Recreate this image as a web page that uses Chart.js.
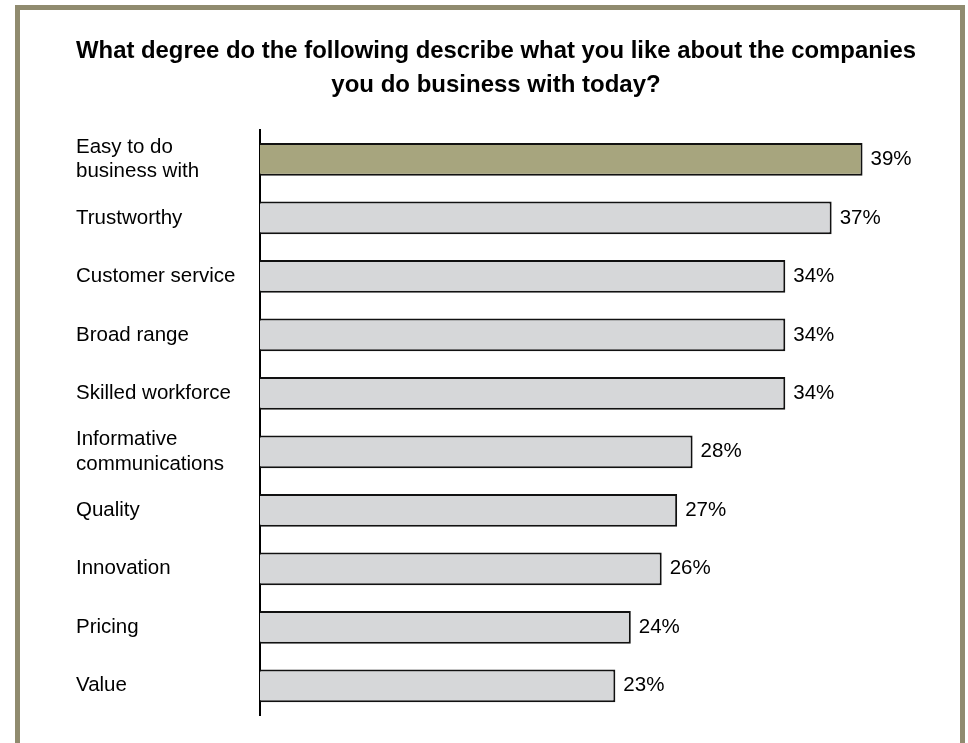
<!DOCTYPE html>
<html>
<head>
<meta charset="utf-8">
<script src="https://cdn.jsdelivr.net/npm/chart.js@4/dist/chart.umd.min.js"></script>
<style>
  html, body { margin: 0; padding: 0; background: #fff; }
  #wrap { position: relative; width: 968px; height: 743px; overflow: hidden; }
  #frame {
    position: absolute; left: 15px; top: 5px; width: 940px; height: 740px;
    border: 5px solid #908b6f; border-bottom-width: 2px; box-sizing: content-box;
  }
  #chart { position: absolute; left: 0; top: 0; }
</style>
</head>
<body>
<div id="wrap">
  <div id="frame"></div>
  <canvas id="chart" width="968" height="743"></canvas>
</div>
<script>
// categories (two-line ones split the way they appear)
const categories = [
    ['Easy to do', 'business with'],
    'Trustworthy',
    'Customer service',
    'Broad range',
    'Skilled workforce',
    ['Informative', 'communications'],
    'Quality',
    'Innovation',
    'Pricing',
    'Value'
];
const values = [39, 37, 34, 34, 34, 28, 27, 26, 24, 23];
const titleLines = [
    'What degree do the following describe what you like about the companies',
    'you do business with today?'
];

const highlightColor = '#a7a57e';
const barColor = '#d6d7d9';
const fontFamily = 'Arial, "Liberation Sans", sans-serif';

// percent labels after each bar
const valueLabels = {
    id: 'valueLabels',
    afterDatasetsDraw(chart) {
        const ctx = chart.ctx;
        const meta = chart.getDatasetMeta(0);
        ctx.save();
        ctx.font = '20.5px ' + fontFamily;
        ctx.fillStyle = '#000';
        ctx.textAlign = 'left';
        ctx.textBaseline = 'middle';
        meta.data.forEach((bar, i) => {
            ctx.fillText(values[i] + '%', bar.x + 8, bar.y);
        });
        ctx.restore();
    }
};

const ctx = document.getElementById('chart').getContext('2d');
window.mainChart = new Chart(ctx, {
    type: 'bar',
    data: {
        labels: categories,
        datasets: [{
            data: values,
            backgroundColor: values.map((v, i) => i === 0 ? highlightColor : barColor),
            borderColor: '#111',
            borderWidth: 2,
            borderSkipped: 'start',
            categoryPercentage: 1,
            barPercentage: 0.56
        }]
    },
    options: {
        indexAxis: 'y',
        responsive: false,
        animation: false,
        layout: { padding: { left: 76, right: 52, top: 0, bottom: 28 } },
        plugins: {
            legend: { display: false },
            tooltip: { enabled: false },
            title: {
                display: true,
                text: titleLines,
                color: '#000',
                font: { family: fontFamily, size: 24, weight: 'bold', lineHeight: 1.42 },
                padding: { top: 34, bottom: 28 }
            }
        },
        scales: {
            x: {
                display: false,
                min: 0,
                max: 42.46
            },
            y: {
                afterFit: function(scale) { scale.width = 184; },
                grid: { color: 'transparent', tickLength: 0 },
                border: { display: true, color: '#000', width: 2 },
                ticks: {
                    crossAlign: 'far',
                    color: '#000',
                    padding: 0,
                    font: { family: fontFamily, size: 20.5, lineHeight: 1.2 }
                }
            }
        }
    },
    plugins: [valueLabels]
});
</script>
</body>
</html>
